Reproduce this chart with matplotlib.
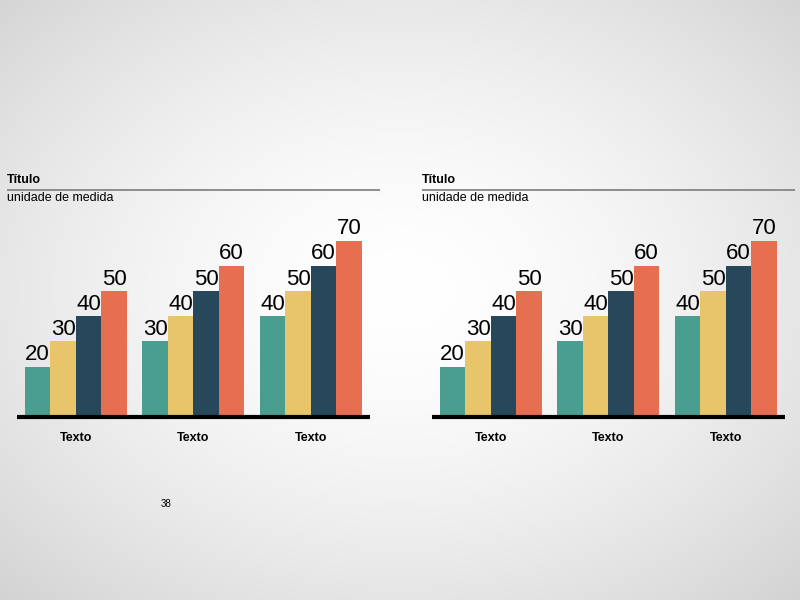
import numpy as np
import matplotlib
matplotlib.use("Agg")
import matplotlib.pyplot as plt

plt.rcParams['font.family'] = ['Liberation Sans', 'DejaVu Sans']

# dados
categorias = ["Texto", "Texto", "Texto"]
serie1 = [20, 30, 40]
serie2 = [30, 40, 50]
serie3 = [40, 50, 60]
serie4 = [50, 60, 70]
series = [serie1, serie2, serie3, serie4]
cores = ["#4A9E8F", "#E8C56A", "#27485A", "#E76F51"]
titulo = "Título"
unidade = "unidade de medida"
pagina = "38"

W, H = 800, 600
fig = plt.figure(figsize=(8, 6), dpi=100)

# fundo com gradiente radial
bg = fig.add_axes([0, 0, 1, 1])
yy, xx = np.mgrid[0:H, 0:W]
r = np.sqrt(((xx - 400) / 400.0) ** 2 + ((yy - 290) / 300.0) ** 2) / np.sqrt(2)
g = np.clip(1.0 - 0.17 * r ** 1.6, 0, 1)
bg.imshow(np.dstack([g, g, g]), extent=[0, W, H, 0], aspect='auto')
bg.set_xlim(0, W)
bg.set_ylim(H, 0)
bg.axis('off')


def px(x, y):
    # pixel -> fracao da figura
    return x / W, 1 - y / H


def grafico(dx):
    # cabecalho
    x0, y0 = px(7 + dx, 180)
    fig.text(x0, y0, titulo, fontsize=9, fontweight='bold', va='center', ha='left')
    bg.plot([7 + dx, 380 + dx], [190, 190], color='#858585', lw=1.3, solid_capstyle='butt')
    x0, y0 = px(7 + dx, 198)
    fig.text(x0, y0, unidade, fontsize=9, va='center', ha='left')

    # eixo do grafico
    left, bottom = px(17 + dx, 417)
    ax = fig.add_axes([left, bottom, 352.5 / W, 201.6 / H])
    ax.set_xlim(-0.5, 2.5)
    ax.set_ylim(0, 80)
    ax.patch.set_alpha(0)
    for s in ax.spines.values():
        s.set_visible(False)

    x = np.arange(len(categorias))
    w = 0.217
    for i, (vals, cor) in enumerate(zip(series, cores)):
        bars = ax.bar(x + (i - 1.5) * w, vals, width=w, color=cor, zorder=2)
        ax.bar_label(bars, padding=1, fontsize=16, color='black')

    ax.axhline(0, color='black', lw=3, zorder=3, clip_on=False, solid_capstyle='butt')
    ax.set_yticks([])
    ax.set_xticks(x)
    ax.set_xticklabels(categorias, fontsize=9, fontweight='bold')
    ax.tick_params(axis='x', length=0, pad=11)


grafico(0)
grafico(415)

x0, y0 = px(166, 504)
fig.text(x0, y0, pagina, fontsize=7, ha='center', va='center')

plt.savefig("out.png", dpi=100)
